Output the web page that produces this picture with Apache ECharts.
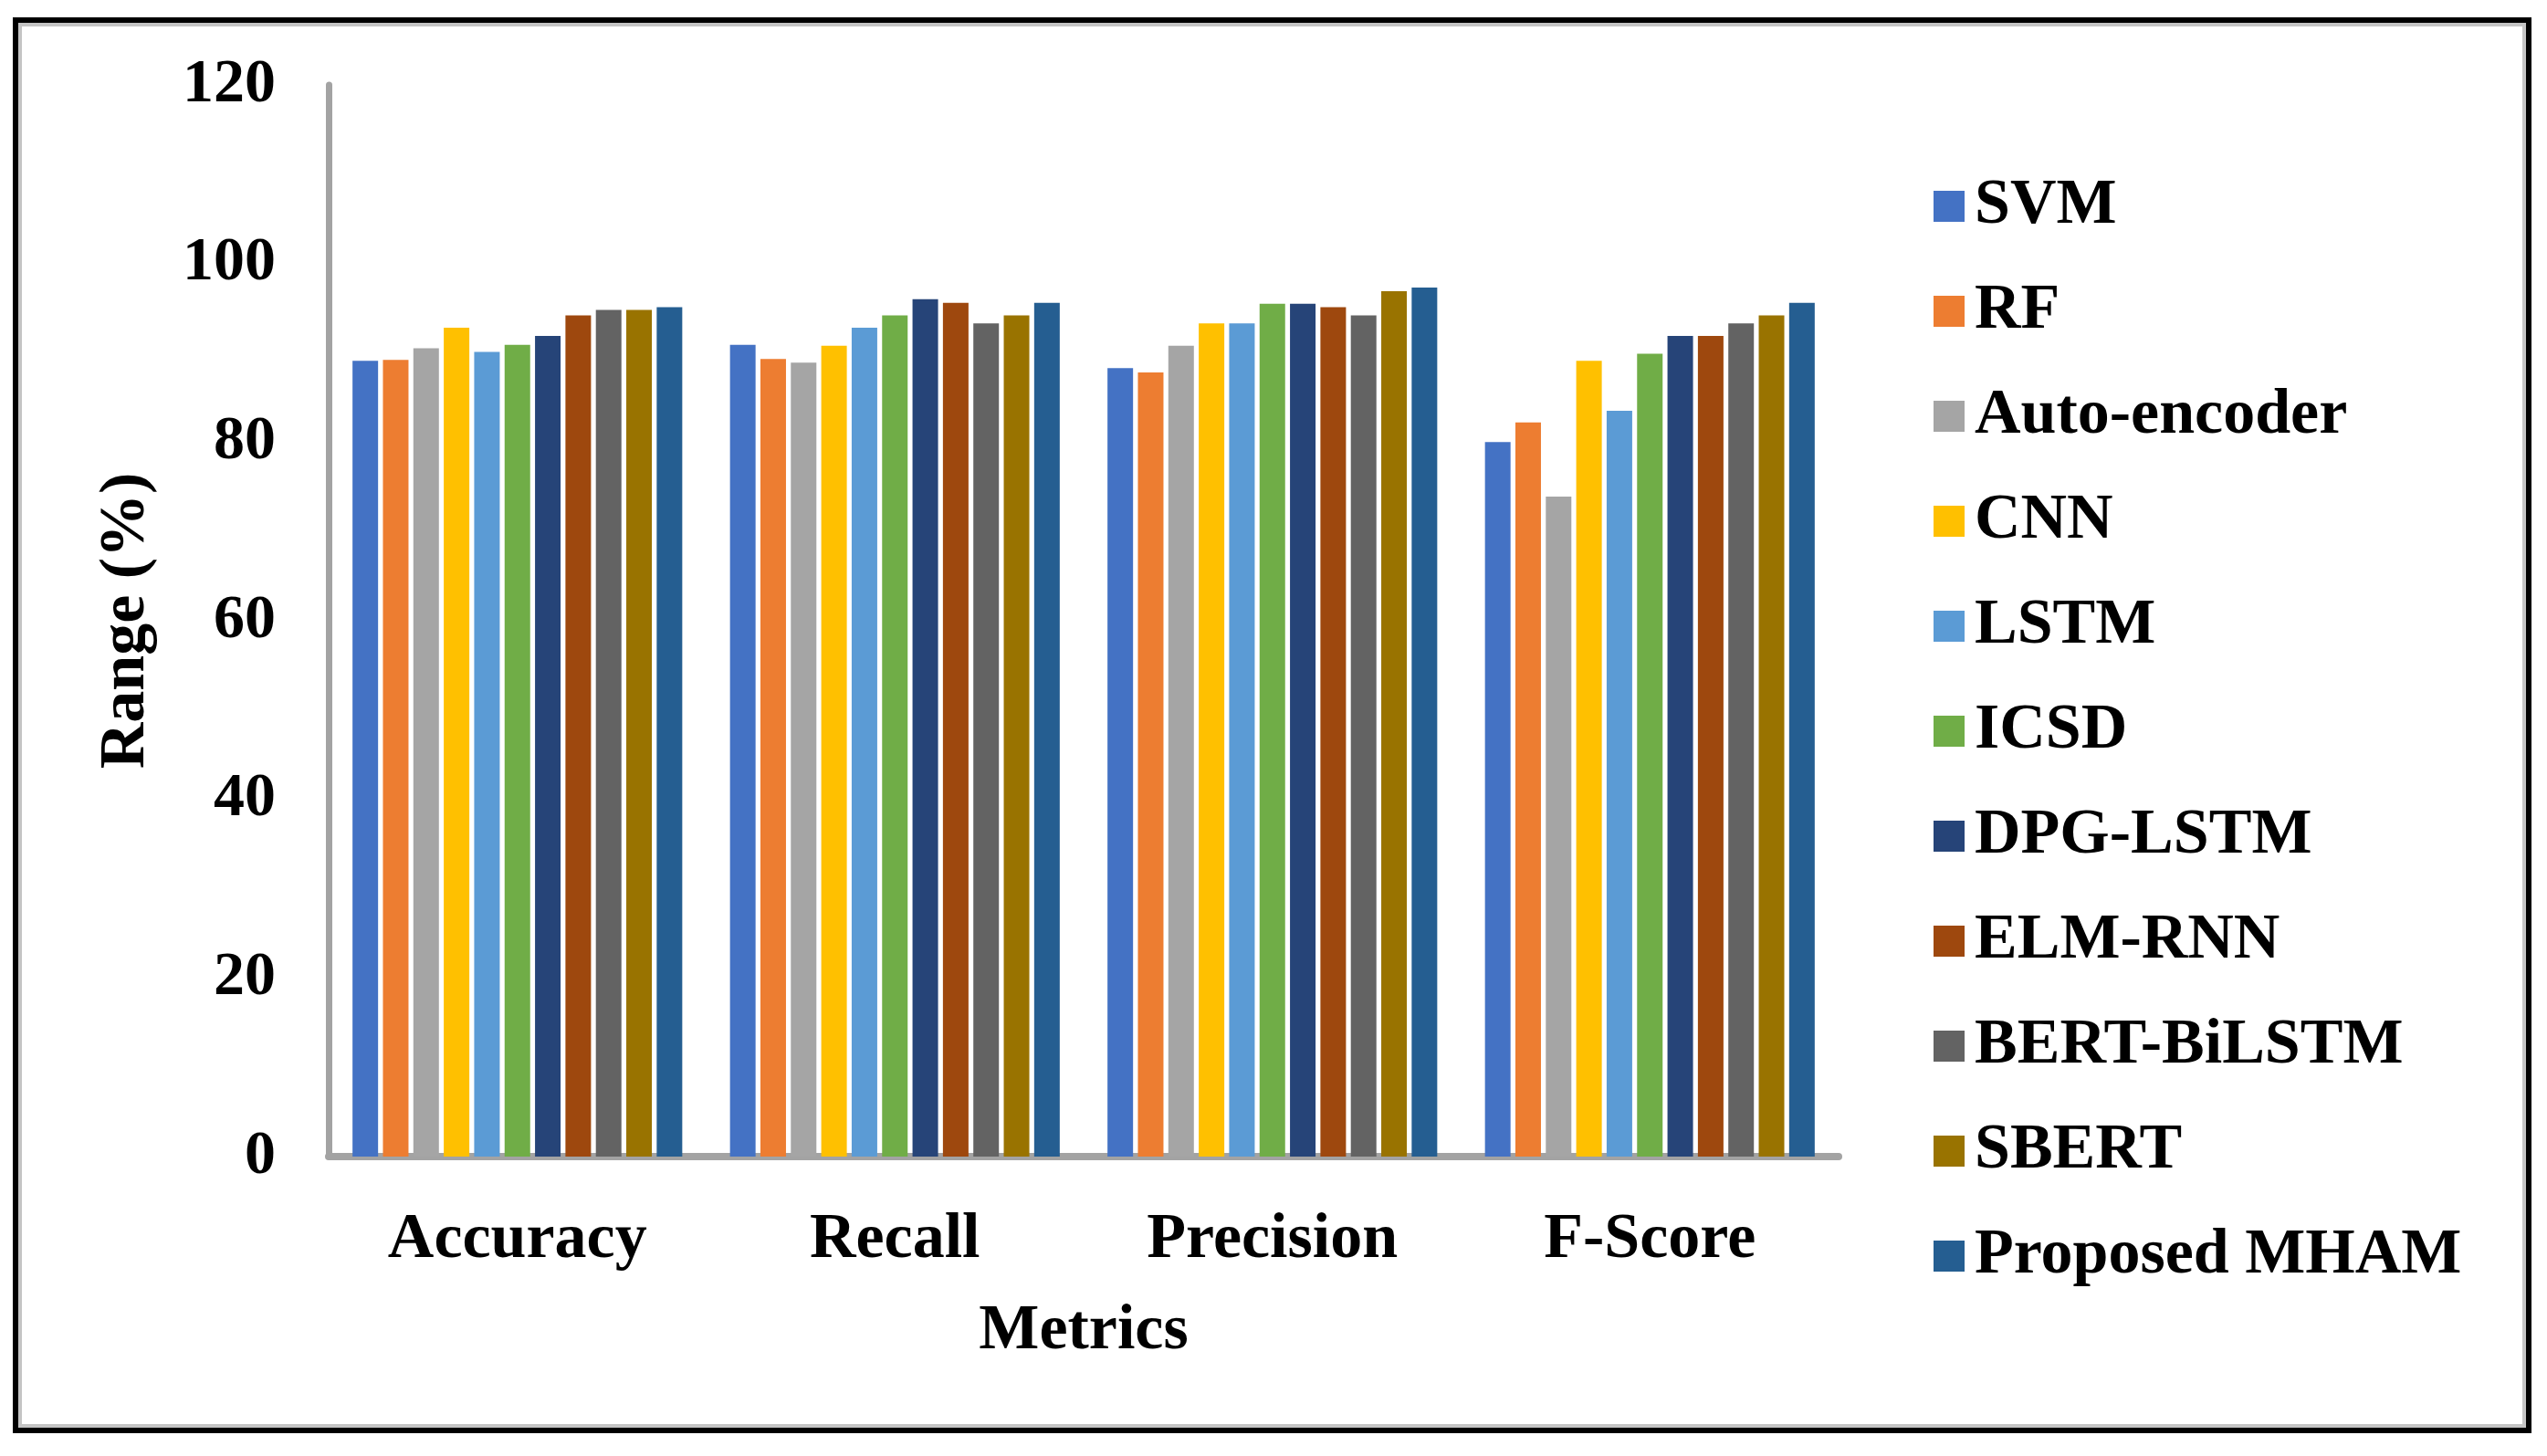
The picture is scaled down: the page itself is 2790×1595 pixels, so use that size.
<!DOCTYPE html>
<html>
<head>
<meta charset="utf-8">
<script src="https://cdn.jsdelivr.net/npm/echarts@6/dist/echarts.min.js"></script>
<style>
html,body{margin:0;padding:0;background:#fff;}
#chart{width:2790px;height:1595px;}
</style>
</head>
<body>
<div id="chart"></div>
<script>
const categories = ['Accuracy', 'Recall', 'Precision', 'F-Score'];
const seriesNames = ['SVM', 'RF', 'Auto-encoder', 'CNN', 'LSTM', 'ICSD', 'DPG-LSTM', 'ELM-RNN', 'BERT-BiLSTM', 'SBERT', 'Proposed MHAM'];
const svm = [89.1, 90.9, 88.3, 80.0];
const rf = [89.2, 89.3, 87.8, 82.2];
const autoEncoder = [90.5, 88.9, 90.8, 73.9];
const cnn = [92.8, 90.8, 93.3, 89.1];
const lstm = [90.1, 92.8, 93.3, 83.5];
const icsd = [90.9, 94.2, 95.5, 89.9];
const dpgLstm = [91.9, 96.0, 95.5, 91.9];
const elmRnn = [94.2, 95.6, 95.1, 91.9];
const bertBiLstm = [94.8, 93.3, 94.2, 93.3];
const sbert = [94.8, 94.2, 96.9, 94.2];
const proposedMham = [95.1, 95.6, 97.3, 95.6];
const yTicks = [0, 20, 40, 60, 80, 100, 120];

const seriesData = [svm, rf, autoEncoder, cnn, lstm, icsd, dpgLstm, elmRnn, bertBiLstm, sbert, proposedMham];
const colors = ['#4472C4', '#ED7D31', '#A5A5A5', '#FFC000', '#5B9BD5', '#70AD47', '#264478', '#9E480E', '#636363', '#997300', '#255E91'];

const FONT = 'Liberation Serif';
const chart = echarts.init(document.getElementById('chart'));
chart.setOption({
  backgroundColor: '#ffffff',
  animation: false,
  color: colors,
  grid: { left: 360, right: 2790 - 2014, top: 93, bottom: 1595 - 1267, containLabel: false },
  legend: {
    orient: 'vertical',
    left: 2113,
    top: 185,
    icon: 'rect',
    itemWidth: 34,
    itemHeight: 34,
    itemGap: 43,
    textStyle: { fontFamily: FONT, fontWeight: 'bold', fontSize: 70, color: '#000', lineHeight: 72, padding: [0, 0, 0, 6] },
    data: seriesNames
  },
  xAxis: {
    type: 'category',
    data: categories,
    name: 'Metrics',
    nameLocation: 'middle',
    nameGap: 157,
    nameTextStyle: { fontFamily: FONT, fontWeight: 'bold', fontSize: 70, color: '#000' },
    axisLine: { lineStyle: { color: '#a3a3a3', width: 8 } },
    axisTick: { show: false },
    axisLabel: { fontFamily: FONT, fontWeight: 'bold', fontSize: 70, color: '#000', margin: 57 },
    splitLine: { show: false }
  },
  yAxis: {
    type: 'value',
    min: yTicks[0],
    max: yTicks[yTicks.length - 1],
    interval: yTicks[1] - yTicks[0],
    name: 'Range (%)',
    nameLocation: 'middle',
    nameGap: 186,
    nameTextStyle: { fontFamily: FONT, fontWeight: 'bold', fontSize: 70, color: '#000' },
    axisLine: { show: true, lineStyle: { color: '#a3a3a3', width: 7 } },
    axisTick: { show: false },
    axisLabel: { fontFamily: FONT, fontWeight: 'bold', fontSize: 68, color: '#000', margin: 58 },
    splitLine: { show: false }
  },
  series: seriesNames.map((n, i) => ({
    name: n,
    type: 'bar',
    data: seriesData[i],
    barWidth: 28,
    barGap: '19%',
    itemStyle: { color: colors[i] }
  })),
  graphic: [
    { type: 'rect', silent: true, z: -1, shape: { x: 17, y: 22, width: 2753, height: 1545 }, style: { fill: null, stroke: '#000', lineWidth: 6 } },
    { type: 'rect', silent: true, z: -1, shape: { x: 22, y: 27, width: 2743, height: 1535 }, style: { fill: null, stroke: '#c4c4c4', lineWidth: 4 } }
  ]
});
</script>
</body>
</html>
